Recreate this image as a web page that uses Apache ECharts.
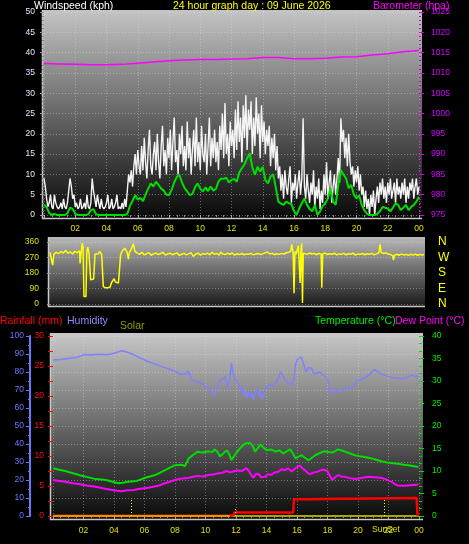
<!DOCTYPE html>
<html><head><meta charset="utf-8">
<script src="https://cdn.jsdelivr.net/npm/echarts@6/dist/echarts.min.js"></script>
<style>html,body{margin:0;padding:0;background:#000}#c{width:469px;height:544px}</style>
</head><body><div id="c"></div>
<script>
// ---------- DATA ----------
const hourTicks = ['02','04','06','08','10','12','14','16','18','20','22','00'];
// wind gust (kph), 5-minute samples 00:00 .. 24:00
const gustKph = [
 9,7,4,2,3,5,2,1.5,5,3,2,1.5,
 2,3,1.5,4,2,1.5,3,6,9,7,4,5,
 2,3,1.5,2,4,1.5,2,3,1.5,5,2,1.5,
 3,9,6,4,2,5,3,1.5,4,2,1.5,2,
 3,5,1.5,2,4,1.5,2,3,5,1.5,2,1.5,
 3,1.5,4,2,6,10,8,11,7,12,15,10,
 16,12,10,17,11,19,13,9,16,21,12,10,
 15,18,11,20,13,9,17,22,12,16,10,19,
 14,21,11,18,24,13,16,10,20,15,22,12,
 17,11,23,14,19,10,16,21,12,24,13,18,
 11,22,15,13,20,10,17,24,12,19,14,21,
 13,18,11,22,16,25,14,27.6,15,20,12,23,
 17,21,14,26,16,28,18,24,13,27,19,29.5,
 16,26,21,28,15,24,17,29,20,25,14,27,
 18,23,15,21,17,22,12,19,14,20,11,17,
 9,12,6,10,4,11,7,5,9,12,3,8,
 6,10,4,8,11,5,9,23.8,7,4,10,6,
 3,8,5,11,2,7,4,9,1.5,6,3,10,
 5,13,4,8,11,3,7,10,5,9,14,8,
 23.8,18,21,14,19,12,20,13,10,12,7,11,
 8,12,6,10,5,7,2,6,1.5,4,0,5,
 2,6,0,4,7,3,8,5,9,4,7,3,
 8,5,9,4,6,8,3,9,5,7,4,8,
 5,9,3,7,4,8,6,9,4,7,9,5,
 7];
// average wind speed (kph), 10-minute samples 00:00 .. 24:00
const avgKph = [
 2.5,2.0,0.5,0,0.3,0, 0,0,0,0.4,1.8,1.5, 0.3,0,0,0,0,0.2, 1.2,1.4,0.2,0,0,0,
 0,0,0,0,0,0, 0,0,0.3,2.2,3.5,4.9, 3.8,4.2,3.4,5.0,6.5,7.8, 7.0,8.2,7.4,6.5,6.0,5.0,
 4.9,6.2,8.0,9.4,9.9,8.0, 6.6,5.8,4.9,5.2,6.8,7.8, 6.5,5.8,6.8,5.9,7.0,6.0, 6.4,8.2,9.0,8.9,9.2,8.0,
 8.6,8.9,8.2,10.5,11.5,12.5, 14.0,15.2,11.8,9.9,11.9,10.7, 11.9,8.6,7.8,9.5,10.0,6.8, 3.3,2.8,2.5,3.3,2.9,2.7,
 1.0,0,1.6,2.9,4.1,2.5, 1.5,0.9,2.5,0,0.9,2.2, 2.9,4.1,6.6,3.3,2.5,7.4, 11.1,10.0,9.0,6.6,7.4,5.0,
 4.1,4.9,2.5,1.2,0.3,0, 0,0,0.3,0.9,2.0,1.8, 1.6,0.9,1.8,2.9,2.5,1.2, 1.8,2.5,1.2,2.0,2.5,3.3,
 4.5];
// barometer (hpa)  [hour, value]
const baroHpa = [[0,1012.3],[1,1012.2],[2,1012.1],[3,1012.0],[4,1012.0],[5,1012.1],[6,1012.4],[7,1012.7],[8,1013.0],[9,1013.2],[10,1013.3],[11,1013.3],[12,1013.4],[13,1013.5],[14,1013.8],[15,1013.8],[16,1013.5],[17,1013.5],[18,1013.6],[19,1013.9],[20,1014.0],[21,1014.4],[22,1014.7],[23,1015.2],[24,1015.5]];
// wind direction (degrees) [hour, deg]
const windDir = [[0,300],[0.1,305],[0.17,226],[0.25,290],[0.4,300],[0.55,292],[0.7,305],[0.85,296],[1.0,310],[1.15,295],[1.3,302],[1.45,290],[1.6,306],[1.75,298],[1.9,308],[1.93,235],[2.0,300],[2.07,354],[2.12,330],[2.18,44],[2.31,44],[2.36,300],[2.42,330],[2.5,295],[2.55,300],[2.61,140],[2.7,140],[2.8,145],[2.89,290],[3.0,300],[3.1,292],[3.2,305],[3.32,285],[3.42,101],[3.55,95],[3.7,95],[3.85,97],[3.95,125],[4.05,135],[4.11,147],[4.2,128],[4.3,122],[4.39,122],[4.45,188],[4.53,286],[4.65,310],[4.8,324],[4.95,300],[5.03,261],[5.1,300],[5.2,315],[5.35,350],[5.45,305],
 [5.6,295],[5.75,288],[5.9,300],[6.05,285],[6.2,292],[6.35,298],[6.5,283],[6.65,291],[6.8,296],[6.95,287],[7.1,293],[7.25,300],[7.4,284],[7.55,290],[7.7,295],[7.85,286],[8.0,292],[8.15,297],[8.3,282],[8.45,289],[8.6,294],[8.75,285],[8.9,291],[9.05,298],[9.2,276],[9.35,290],[9.5,295],[9.65,284],[9.8,293],[9.95,288],[10.1,296],[10.25,286],[10.4,300],[10.55,289],[10.7,294],[10.85,283],[10.95,301],[11.1,290],[11.25,287],[11.4,295],[11.55,289],[11.7,296],[11.85,284],[12.0,292],[12.15,287],[12.3,293],[12.45,286],[12.6,291],[12.75,289],[12.9,294],[13.05,285],[13.2,290],[13.35,293],[13.5,288],[13.65,291],[13.8,297],[13.95,302],[14.1,290],[14.25,295],[14.4,286],[14.55,292],[14.7,288],[14.85,294],[15.0,290],[15.15,296],[15.3,300],[15.45,306],
 [15.51,346],[15.6,300],[15.66,63],[15.72,305],[15.8,290],[15.94,340],[16.05,122],[16.1,300],[16.15,352],[16.2,6],[16.25,295],[16.35,300],[16.5,288],[16.65,296],[16.8,290],[16.95,294],[17.1,286],[17.25,293],[17.4,290],[17.44,95],[17.5,291],[17.65,296],[17.8,287],[17.95,292],[18.1,289],[18.25,295],[18.4,285],[18.55,291],[18.7,288],[18.85,294],[19.0,286],[19.15,292],[19.3,289],[19.45,295],[19.6,284],[19.75,291],[19.9,288],[20.05,293],[20.2,286],[20.35,292],[20.5,289],[20.65,294],[20.8,285],[20.95,291],[21.1,296],[21.18,346],[21.25,300],[21.4,293],[21.55,297],[21.7,290],[21.85,288],[22.0,280],[22.04,255],[22.1,284],[22.25,289],[22.4,283],[22.55,290],[22.7,285],[22.85,288],[23.0,282],[23.15,289],[23.3,284],[23.45,290],[23.6,283],[23.75,288],[23.9,285],[24,287]];
// humidity (%) [hour, value]
const humidity = [[0,86.7],[0.5,87],[1,87.5],[1.5,88],[2.1,89.7],[2.5,89.5],[3,89.8],[3.5,89.6],[3.85,90],[4.2,91],[4.5,91.8],[4.9,91],[5.3,89.5],[5.6,88.3],[6.25,85.7],[6.7,84.5],[7.1,83],[7.5,82],[7.8,81],[8.1,80],[8.4,78.7],[8.7,79],[8.85,80.5],[8.95,79],[9.1,75.5],[9.4,74.5],[9.75,73.7],[10,72],[10.2,70.9],[10.4,69],[10.6,67.2],[10.75,70],[10.95,75.5],[11.1,76],[11.3,77.4],[11.45,71.9],[11.6,76],[11.7,84.8],[11.8,80],[11.9,76.5],[12.15,74],[12.3,70],[12.4,72],[12.5,67],[12.6,69],[12.7,66],[12.8,69],[12.95,66],[13.05,68],[13.15,64.4],[13.25,68],[13.4,71],[13.5,67],[13.6,69],[13.7,65],[13.85,68],[14,72],[14.2,73],[14.4,72.5],[14.6,74],[14.8,77],[14.9,80],[15,80],[15.1,78],[15.2,75.5],[15.4,74],[15.65,72.8],[15.8,76],[15.9,84],[16,86.7],[16.15,88],[16.3,88],[16.45,84],[16.6,80],[16.75,82.5],[16.96,82],[17.1,79],[17.3,79.4],[17.5,80],[17.7,78.5],[17.9,77],[18.05,74.8],[18.15,70],[18.3,68.3],[18.45,70],[18.6,68.5],[18.7,69.3],[18.9,70.5],[19.15,70],[19.4,71],[19.6,71],[19.75,72.5],[19.9,74.8],[20.2,76],[20.45,76.7],[20.8,79],[21.1,81.5],[21.3,80],[21.5,79],[21.8,78],[22.2,77],[22.6,76.5],[22.9,76.3],[23.2,77],[23.5,78.1],[23.96,77.5]];
// temperature (°C) [hour, value]
const temperature = [[0,10.6],[0.4,10.3],[0.8,10],[1.2,9.6],[1.7,9.1],[2.2,8.7],[2.8,8.2],[3.5,8],[3.9,7.6],[4.3,7.3],[4.6,7.4],[4.9,7.6],[5.5,7.8],[6.05,8.5],[6.7,9.1],[7.35,10.2],[7.7,10.8],[8,11.3],[8.4,11.4],[8.65,11.1],[8.9,12.8],[9.2,13.6],[9.5,14.3],[9.8,14.1],[10.2,14.4],[10.45,14.2],[10.6,14.8],[10.8,14.2],[10.95,13.2],[11.2,14.0],[11.4,14.6],[11.55,13.8],[11.7,12.4],[11.85,13.2],[12,13.9],[12.3,15.2],[12.6,16.1],[12.9,16.3],[13.1,15.6],[13.25,14.3],[13.45,15.2],[13.6,15.9],[13.8,15.2],[14,14.6],[14.3,14.8],[14.6,14.3],[14.85,14.6],[15.1,13.9],[15.35,14.4],[15.55,14.8],[15.75,13.8],[15.9,12.8],[16.1,13.2],[16.3,13.5],[16.5,13],[16.75,12.4],[17,13],[17.2,13.5],[17.5,14],[17.8,14.4],[18.05,14.2],[18.3,14.1],[18.5,14.4],[18.7,14.8],[18.9,14.6],[19.15,14.3],[19.5,13.9],[19.8,13.5],[20.1,13.3],[20.45,13.1],[20.9,12.8],[21.3,12.4],[21.6,12.1],[21.9,11.9],[22.3,11.7],[22.6,11.6],[23,11.4],[23.3,11.3],[23.96,10.9]];
// dew point (°C) [hour, value]
const dewPoint = [[0,8],[0.4,7.8],[0.8,7.6],[1.3,7.3],[1.7,7.1],[2.2,6.8],[2.8,6.5],[3.2,6.2],[3.5,6],[3.9,5.8],[4.2,5.6],[4.5,5.5],[4.9,5.7],[5.3,5.8],[5.6,6],[6.25,6.3],[6.9,6.7],[7.2,7.1],[7.55,7.5],[7.9,7.9],[8.2,8.2],[8.9,8.5],[9.2,8.7],[9.5,8.9],[9.8,8.8],[10.2,9.1],[10.5,9.2],[10.85,9.5],[11.1,9.6],[11.4,10],[11.6,9.7],[11.8,9.9],[12.1,10.1],[12.4,10.0],[12.55,10.4],[12.7,10.6],[12.85,10.0],[13,9.1],[13.15,8.5],[13.3,9.4],[13.5,9.3],[13.65,8.6],[13.9,8.7],[14.1,9.3],[14.3,9.1],[14.5,9.6],[14.8,9.9],[15,10.4],[15.2,10.2],[15.4,10.6],[15.65,9.9],[15.9,10.6],[16.05,11.0],[16.2,11.2],[16.35,10.6],[16.5,10.2],[16.7,9.6],[16.85,9.3],[17.05,9.6],[17.3,9.8],[17.6,10.2],[17.8,10.3],[18,9.9],[18.15,9.0],[18.3,8],[18.5,8.6],[18.7,9.1],[18.9,8.8],[19.15,8.7],[19.5,8.4],[19.9,8.2],[20.3,8.5],[20.7,8.7],[21.1,8.6],[21.5,8.5],[21.8,8.2],[22.2,7.6],[22.4,7.1],[22.6,6.8],[23,6.7],[23.3,6.8],[23.6,6.9],[23.96,7.0]];
// rainfall (mm) [hour, value]
const rainfall = [[0,0],[11.6,0],[11.65,0.2],[11.85,0.2],[11.9,0.6],[15.75,0.6],[15.8,2.8],[16.15,2.8],[16.2,3.0],[23.85,3.0],[23.9,0]];
// solar (flat)
const solar = [[0,0],[24,0]];
const sunMarks = [[5.1,9],[11.93,5],[21.7,9]]; // [hour, marker height on humidity scale]
const compass = {0:'N',90:'E',180:'S',270:'W',360:'N'};

// ---------- CHART ----------
const FONT = 'Liberation Sans';
const gustData = gustKph.map((v,i)=>[i*5/60, v]);
const avgData = avgKph.map((v,i)=>[i*10/60, v]);
const rainZero = rainfall.filter((p,i)=>i<2);      // dry part, drawn orange
const rainWet = rainfall.filter((p,i)=>i>=1);      // accumulating part, red
const hourFmt = v => v===0 ? '' : hourTicks[v/2-1];
const bgGrad = (a,b)=>({type:'linear',x:0,y:0,x2:0,y2:1,colorStops:[{offset:0,color:a},{offset:1,color:b}]});
const dotted = c => ({show:true,lineStyle:{type:[1,2],color:c,width:1}});
const plain = v => String(v);

function xAx(grid, showLab, margin){
  return {type:'value',gridIndex:grid,min:0,max:24,interval:2,
    axisLine:{show:false,onZero:false},
    axisTick:{show:showLab,length:3,lineStyle:{color:'#aaa'}},
    minorTick:{show:showLab,splitNumber:4,length:2,lineStyle:{color:'#888'}},
    axisLabel:{show:showLab,formatter:hourFmt,color:'#e0e000',fontSize:8.5,fontFamily:FONT,margin:margin},
    splitLine:grid===1?{show:false}:dotted('rgba(225,225,225,0.4)')};
}
function txt(x,y,t,c,size){return {type:'text',x:x,y:y,z:10,style:{text:t,fill:c,font:(size||10.5)+'px '+FONT,verticalAlign:'middle',align:'left'}};}

const option = {
  backgroundColor:'#000',
  animation:false,
  grid:[
    {left:44,top:12,width:375,height:203},
    {left:50,top:242,width:374,height:62},
    {left:53,top:336,width:366,height:180}
  ],
  graphic:[
    {type:'rect',z:-5,shape:{x:42,y:10,width:380,height:209},style:{fill:bgGrad('#c4c4c4','#080808')}},
    {type:'polyline',z:-4,shape:{points:[[42.5,10],[42.5,218.5],[422,218.5]]},style:{stroke:'#c8c8c8',lineWidth:1.5,fill:null}},
    {type:'rect',z:-5,shape:{x:48,y:237,width:377,height:70},style:{fill:bgGrad('#b8b8b8','#181818')}},
    {type:'polyline',z:-4,shape:{points:[[48.5,237],[48.5,306.5],[425,306.5]]},style:{stroke:'#c8c8c8',lineWidth:1.5,fill:null}},
    {type:'rect',z:-5,shape:{x:50,y:333,width:373,height:187},style:{fill:bgGrad('#c8c8c8','#080808')}},
    {type:'polyline',z:-4,shape:{points:[[50.5,333],[50.5,519.5],[423,519.5]]},style:{stroke:'#c8c8c8',lineWidth:1.5,fill:null}},
    txt(34,6,'Windspeed (kph)','#ffffff'),
    txt(173,6,'24 hour graph day : 09 June 2026','#ffff00'),
    txt(373,6,'Barometer (hpa)','#ff00ff'),
    txt(0,321,'Rainfall (mm)','#ff0000'),
    txt(67,321,'Humidity','#8c8cff'),
    txt(120,326,'Solar','#9a9a00'),
    txt(315,321,'Temperature (°C)','#00ee00'),
    txt(395,321,'Dew Point (°C)','#ff00ff'),
    txt(372,530,'SunSet','#e0e000',8.5)
  ],
  xAxis:[ xAx(0,true,9), xAx(1,false,8), xAx(2,true,10) ],
  yAxis:[
    {type:'value',gridIndex:0,min:0,max:50,interval:5,position:'left',
      axisLine:{show:false,onZero:false},axisTick:{show:true,length:4,lineStyle:{color:'#999'}},
      minorTick:{show:true,splitNumber:5,length:2,lineStyle:{color:'#888'}},
      axisLabel:{color:'#e4e8ff',fontSize:8.5,fontFamily:FONT,margin:9},
      splitLine:dotted('rgba(225,225,225,0.4)')},
    {type:'value',gridIndex:0,min:975,max:1025,interval:5,position:'right',
      axisLine:{show:false,onZero:false},axisTick:{show:true,length:5,lineStyle:{color:'#e000e0'}},
      minorTick:{show:true,splitNumber:5,length:2,lineStyle:{color:'#d000d0'}},
      axisLabel:{color:'#d000ff',fontSize:8.5,fontFamily:FONT,margin:12,formatter:plain},
      splitLine:{show:false}},
    {type:'value',gridIndex:1,min:0,max:360,interval:90,position:'left',
      axisLine:{show:false,onZero:false},axisTick:{show:true,length:3,lineStyle:{color:'#999'}},
      axisLabel:{color:'#e0e000',fontSize:8.5,fontFamily:FONT,margin:11},
      splitLine:dotted('rgba(225,225,225,0.4)')},
    {type:'value',gridIndex:1,min:0,max:360,interval:90,position:'right',
      axisLine:{show:false,onZero:false},axisTick:{show:false},
      axisLabel:{color:'#ffff00',fontSize:12,fontFamily:FONT,margin:14,formatter:v=>compass[v]},
      splitLine:{show:false}},
    {type:'value',gridIndex:2,min:0,max:100,interval:10,position:'left',offset:23,
      axisLine:{show:true,onZero:false,lineStyle:{color:'#6a78ff',width:2}},
      axisTick:{show:true,length:4,lineStyle:{color:'#6a78ff'}},
      minorTick:{show:true,splitNumber:2,length:2,lineStyle:{color:'#6a78ff'}},
      axisLabel:{color:'#6a78ff',fontSize:8.5,fontFamily:FONT,margin:6},
      splitLine:dotted('rgba(225,225,225,0.4)')},
    {type:'value',gridIndex:2,min:0,max:30,interval:5,position:'left',offset:0,
      axisLine:{show:false,onZero:false},
      axisTick:{show:true,length:5,lineStyle:{color:'#ff0000'}},
      minorTick:{show:true,splitNumber:2,length:5,lineStyle:{color:'#ff0000'}},
      axisLabel:{color:'#ff1010',fontSize:8.5,fontFamily:FONT,margin:9},
      splitLine:{show:false}},
    {type:'value',gridIndex:2,min:0,max:40,interval:5,position:'right',
      axisLine:{show:false,onZero:false},
      axisTick:{show:true,length:5,lineStyle:{color:'#00dd00'}},
      minorTick:{show:true,splitNumber:3,length:3,lineStyle:{color:'#00dd00'}},
      axisLabel:{color:'#00ee00',fontSize:8.5,fontFamily:FONT,margin:13},
      splitLine:{show:false}}
  ],
  series:[
    {type:'line',xAxisIndex:0,yAxisIndex:0,data:gustData,showSymbol:false,symbol:'none',
      lineStyle:{color:'#f4f4f4',width:1.4},z:2},
    {type:'line',xAxisIndex:0,yAxisIndex:0,data:avgData,showSymbol:false,symbol:'none',
      lineStyle:{color:'#00dd00',width:2},z:3},
    {type:'line',xAxisIndex:0,yAxisIndex:1,data:baroHpa,showSymbol:false,symbol:'none',
      lineStyle:{color:'#ff00ff',width:1.5},z:4},
    {type:'line',xAxisIndex:1,yAxisIndex:2,data:windDir,showSymbol:false,symbol:'none',
      lineStyle:{color:'#ffff00',width:1.5},z:3},
    {type:'line',xAxisIndex:2,yAxisIndex:4,data:solar,showSymbol:false,symbol:'none',
      lineStyle:{color:'#a8a800',width:2},z:2,
      markLine:{symbol:'none',silent:true,animation:false,label:{show:false},
        lineStyle:{type:[1,2],color:'#ffff00',width:1},
        data:sunMarks.map(m=>[{coord:[m[0],0]},{coord:[m[0],m[1]]}])}},
    {type:'line',xAxisIndex:2,yAxisIndex:4,data:humidity,showSymbol:false,symbol:'none',
      lineStyle:{color:'#8080ff',width:1.5},z:3},
    {type:'line',xAxisIndex:2,yAxisIndex:6,data:temperature,showSymbol:false,symbol:'none',
      lineStyle:{color:'#00dd00',width:2},z:3},
    {type:'line',xAxisIndex:2,yAxisIndex:6,data:dewPoint,showSymbol:false,symbol:'none',
      lineStyle:{color:'#ff00ff',width:2},z:3},
    {type:'line',xAxisIndex:2,yAxisIndex:5,data:rainZero,showSymbol:false,symbol:'none',
      lineStyle:{color:'#ff8c00',width:2.5},z:4},
    {type:'line',xAxisIndex:2,yAxisIndex:5,data:rainWet,showSymbol:false,symbol:'none',
      lineStyle:{color:'#ff0000',width:2.5},z:4}
  ]
};
const chart = echarts.init(document.getElementById('c'),null,{renderer:'canvas'});
chart.setOption(option);
</script>
</body></html>
